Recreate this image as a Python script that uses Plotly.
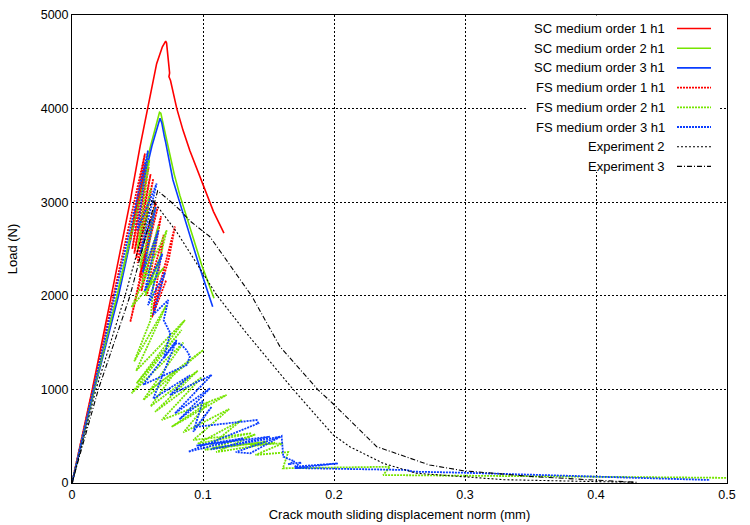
import plotly.graph_objects as go

# ---------------- data ----------------
sc1_x = [0, 0.0155, 0.0300, 0.0443, 0.0520, 0.0582, 0.0646, 0.0690, 0.0715, 0.0722, 0.0735, 0.0745, 0.0740, 0.0752, 0.0800, 0.0847, 0.0900, 0.1002, 0.1080, 0.1160]
sc1_y = [0, 1000, 2000, 3000, 3600, 4020, 4480, 4660, 4720, 4700, 4520, 4380, 4340, 4300, 4000, 3770, 3550, 3170, 2900, 2670]

sc2_x = [0, 0.0165, 0.0345, 0.0500, 0.0600, 0.0655, 0.0668, 0.0678, 0.0690, 0.0700, 0.0720, 0.0745, 0.0780, 0.0824, 0.0900, 0.0990, 0.1084]
sc2_y = [0, 1000, 2000, 3000, 3600, 3900, 3960, 3950, 3870, 3800, 3680, 3520, 3300, 3070, 2720, 2330, 1973]

sc3_x = [0, 0.0172, 0.0355, 0.0510, 0.0610, 0.0660, 0.0672, 0.0685, 0.0695, 0.0705, 0.0715, 0.0735, 0.0770, 0.0824, 0.0900, 0.0980, 0.1074]
sc3_y = [0, 1000, 2000, 3000, 3600, 3860, 3896, 3850, 3760, 3700, 3640, 3500, 3240, 2990, 2640, 2280, 1884]

fs1_x = [0, 0.0557, 0.0445, 0.0560, 0.0460, 0.0585, 0.0475, 0.0600, 0.0490, 0.0620, 0.0500, 0.0640, 0.0515, 0.0655,
         0.0445, 0.0560, 0.0530, 0.0680, 0.0570, 0.0700, 0.0620, 0.0786, 0.0740, 0.0610, 0.0720]
fs1_y = [0, 3520, 2600, 3420, 2500, 3380, 2450, 3300, 2400, 3250, 2350, 3000, 2200, 2950,
         1720, 2450, 2050, 2850, 2000, 2650, 1850, 2740, 2400, 1770, 2170]

fs2_x = [0, 0.0590, 0.0500, 0.0600, 0.0520, 0.0635, 0.0540, 0.0660, 0.0560, 0.0685, 0.0570, 0.0700, 0.0455, 0.0723,
         0.0620, 0.0600, 0.0475, 0.0720, 0.0490, 0.0862, 0.0493, 0.0837, 0.0455, 0.0850, 0.0544, 0.1002,
         0.0595, 0.0799, 0.0600, 0.0960, 0.0634, 0.0990, 0.0685, 0.1180, 0.0760, 0.1040, 0.0850, 0.1200,
         0.0926, 0.1370, 0.0960, 0.1295, 0.1015, 0.1486, 0.1066, 0.1400, 0.1100, 0.1550, 0.1360, 0.1610,
         0.1400, 0.1650, 0.1610, 0.2427, 0.2375, 0.5000]
fs2_y = [0, 3450, 2500, 3150, 2300, 2950, 2150, 2750, 2000, 2450, 2060, 2300, 1880, 2700,
         2100, 1741, 1300, 1900, 1200, 1741, 1065, 1635, 958, 1500, 887, 1421,
         994, 1207, 820, 1200, 760, 1130, 673, 940, 600, 860, 540, 790,
         459, 531, 420, 673, 353, 441, 371, 520, 330, 430, 406, 424,
         300, 330, 157, 174, 85, 55]

fs3_x = [0, 0.0580, 0.0500, 0.0646, 0.0520, 0.0640, 0.0540, 0.0660, 0.0555, 0.0690, 0.0580, 0.0710, 0.0620, 0.0735,
         0.0700, 0.0750, 0.0700, 0.0786, 0.0824, 0.0875, 0.0900, 0.0875, 0.0544, 0.0799, 0.0620, 0.0900,
         0.0748, 0.1066, 0.0786, 0.1053, 0.0820, 0.1000, 0.0926, 0.1066, 0.0950, 0.1410, 0.1423, 0.0888,
         0.1308, 0.0950, 0.1510, 0.1060, 0.1588, 0.1250, 0.1360, 0.1600, 0.1613, 0.1700, 0.1650, 0.1750,
         0.1700, 0.2030, 0.1700, 0.2555, 0.2605, 0.2987, 0.3980, 0.4870]
fs3_y = [0, 3550, 2700, 3200, 2450, 2950, 2250, 2700, 2050, 2450, 1900, 2250, 1800, 1955,
         1740, 1600, 1330, 1490, 1490, 1420, 1350, 1260, 1050, 1528, 900, 1150,
         940, 1154, 744, 1012, 680, 880, 548, 815, 600, 673, 638, 334,
         478, 400, 495, 360, 495, 330, 317, 502, 281, 230, 200, 220,
         174, 210, 160, 139, 121, 110, 67, 32]

exp2_x = [0, 0.0183, 0.0405, 0.0560, 0.0610, 0.0650, 0.0800, 0.0950, 0.1104, 0.1333, 0.1664, 0.1893, 0.1995, 0.2120, 0.2376, 0.2630, 0.2987, 0.3300, 0.4000, 0.4310]
exp2_y = [0, 1000, 2000, 2780, 3030, 2960, 2680, 2350, 2009, 1599, 1040, 673, 513, 388, 210, 104, 67, 35, 15, 8]

exp3_x = [0, 0.0201, 0.0443, 0.0600, 0.0654, 0.0750, 0.0824, 0.0900, 0.1002, 0.1053, 0.1372, 0.1588, 0.1880, 0.1995, 0.2326, 0.2730, 0.2987, 0.3500, 0.3980, 0.4300]
exp3_y = [0, 1000, 2000, 2850, 3123, 3010, 2917, 2800, 2685, 2631, 1998, 1456, 993, 844, 388, 192, 131, 70, 32, 8]

x_ticks = [0, 0.1, 0.2, 0.3, 0.4, 0.5]
x_tick_labels = ["0", "0.1", "0.2", "0.3", "0.4", "0.5"]
y_ticks = [0, 1000, 2000, 3000, 4000, 5000]
y_tick_labels = ["0", "1000", "2000", "3000", "4000", "5000"]

names = ["SC medium order 1 h1", "SC medium order 2 h1", "SC medium order 3 h1",
         "FS medium order 1 h1", "FS medium order 2 h1", "FS medium order 3 h1",
         "Experiment 2", "Experiment 3"]

# ---------------- styles ----------------
RED, GREEN, BLUE, BLACK = "#ff0000", "#76e400", "#0a3cff", "#000000"
colors = [RED, GREEN, BLUE, RED, GREEN, BLUE, BLACK, BLACK]
dashes = ["solid", "solid", "solid", "2px,1px", "2px,1px", "2px,1px", "2px,2px", "5px,2px,1px,2px"]
widths = [1.6, 1.6, 1.6, 1.8, 1.8, 1.8, 1.1, 1.1]
xs = [sc1_x, sc2_x, sc3_x, fs1_x, fs2_x, fs3_x, exp2_x, exp3_x]
ys = [sc1_y, sc2_y, sc3_y, fs1_y, fs2_y, fs3_y, exp2_y, exp3_y]

FONT = "Liberation Sans, Arial, Helvetica, sans-serif"

# plot-area geometry (pixels) used for the hand-made legend
M_L, M_R, M_T, M_B = 72, 23, 15, 42
PLOT_H = 525 - M_T - M_B
PLOT_W = 750 - M_L - M_R

fig = go.Figure()
for n, x, y, c, d, w in zip(names, xs, ys, colors, dashes, widths):
    fig.add_trace(go.Scatter(x=x, y=y, mode="lines", name=n, showlegend=False,
                             line=dict(color=c, dash=d, width=w)))

def px_x(p):
    return (p - M_L) / PLOT_W

def px_y(p):
    return (525 - M_B - p) / PLOT_H

# custom legend (text on the left, sample on the right), gnuplot style
shapes = [dict(type="rect", xref="paper", yref="paper", x0=px_x(527), x1=px_x(719),
               y0=px_y(172), y1=0.999, fillcolor="white", line=dict(width=0), layer="above")]
annotations = []
for i, (n, c, d, w) in enumerate(zip(names, colors, dashes, widths)):
    yy = px_y(28.5 + i * 19.7)
    annotations.append(dict(xref="paper", yref="paper", x=px_x(667), y=yy, text=n, showarrow=False,
                            xanchor="right", yanchor="middle",
                            font=dict(family=FONT, size=13, color="black")))
    shapes.append(dict(type="line", xref="paper", yref="paper", x0=px_x(677), x1=px_x(711), y0=yy, y1=yy,
                       line=dict(color=c, dash=d, width=w), layer="above"))

axis_common = dict(showgrid=True, gridcolor="black", griddash="2px,2px", gridwidth=1,
                   showline=True, linecolor="black", linewidth=1, mirror=True, automargin=False,
                   zeroline=False, ticks="", tickfont=dict(family=FONT, size=12.5, color="black"))

fig.update_layout(
    width=750, height=525,
    margin=dict(l=M_L, r=M_R, t=M_T, b=M_B, autoexpand=False),
    paper_bgcolor="white", plot_bgcolor="white",
    font=dict(family=FONT, color="black"),
    xaxis=dict(range=[0, 0.5], tickvals=x_ticks, ticktext=x_tick_labels,
               title=dict(text="Crack mouth sliding displacement norm (mm)",
                          font=dict(family=FONT, size=13), standoff=8),
               **axis_common),
    yaxis=dict(range=[0, 5000], tickvals=y_ticks, ticktext=y_tick_labels,
               title=dict(text="Load (N)", font=dict(family=FONT, size=13), standoff=20),
               **axis_common),
    shapes=shapes, annotations=annotations,
)

fig.write_html("out.html", config={"displayModeBar": False},
               post_script="document.body.style.margin='0';document.body.style.overflow='hidden';")
